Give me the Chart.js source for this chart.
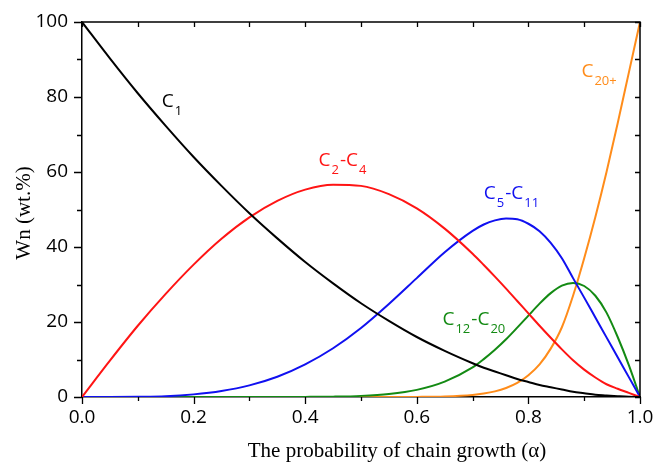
<!DOCTYPE html>
<html>
<head>
<meta charset="utf-8">
<script src="https://cdn.jsdelivr.net/npm/chart.js@4.4.0/dist/chart.umd.min.js"></script>
<style>
  html, body { margin: 0; padding: 0; background: #fff; }
</style>
</head>
<body>
<canvas id="asfChart" width="654" height="465"></canvas>
<script>
// chain growth probability (x) and weight fractions
var alpha   = [0, 0.05, 0.1, 0.15, 0.2, 0.25, 0.3, 0.35, 0.4, 0.45, 0.5, 0.55, 0.6, 0.65, 0.7, 0.72, 0.74, 0.76, 0.78, 0.8, 0.82, 0.84, 0.86, 0.88, 0.9, 0.92, 0.94, 0.96, 0.98, 1.0];
var c1      = [100, 90.3, 81, 72.3, 64, 56.3, 49, 42.3, 36, 30.3, 25, 20.3, 16, 12.3, 9, 7.8, 6.8, 5.8, 4.8, 4, 3.2, 2.6, 2, 1.4, 1, 0.6, 0.4, 0.2, 0.04, 0];
var c2c4    = [0, 9.7, 19, 27.5, 35.3, 42.2, 47.9, 52.3, 55.3, 56.6, 56.3, 54.1, 50.3, 44.9, 38.2, 35.2, 32.1, 28.9, 25.6, 22.3, 19, 15.8, 12.7, 9.8, 7.3, 5.2, 3.4, 2.2, 1.1, 0];
var c5c11   = [0, 0, 0.05, 0.2, 0.7, 1.6, 3.1, 5.4, 8.7, 13, 18.4, 24.8, 31.7, 38.6, 44.3, 46, 47.1, 47.6, 47.4, 46.2, 44.2, 41.1, 37, 31.7, 26.5, 21.2, 15.9, 10.6, 5.3, 0];
var c12c20  = [0, 0, 0, 0, 0, 0, 0, 0, 0.03, 0.1, 0.3, 0.8, 1.9, 4.1, 7.9, 10.1, 12.6, 15.4, 18.5, 21.7, 24.9, 27.7, 29.7, 30.4, 29.6, 27, 22.5, 16, 8.5, 0];
var c20plus = [0, 0, 0, 0, 0, 0, 0, 0, 0, 0, 0, 0, 0.03, 0.15, 0.56, 0.93, 1.5, 2.4, 3.75, 5.8, 8.7, 12.9, 18.6, 27, 37, 48, 60, 73, 86.5, 100];

var seriesNames  = ['C1', 'C2-C4', 'C5-C11', 'C12-C20', 'C20+'];
var seriesColors = ['#000000', '#ff1414', '#1010f0', '#138a13', '#ff8c1a'];

// curve labels: [text, subscript] pieces, anchored at (alpha, wt.%)
var labelParts = [
  [['C', '1']],
  [['C', '2'], ['-C', '4']],
  [['C', '5'], ['-C', '11']],
  [['C', '12'], ['-C', '20']],
  [['C', '20+']]
];
var labelAlpha = [0.143, 0.424, 0.720, 0.646, 0.895];
var labelWn    = [77.3, 61.5, 52.7, 19.1, 85.3];

var xTitle = 'The probability of chain growth (\u03b1)';
var yTitle = 'Wn (wt.%)';

function pts(ys) {
  return alpha.map(function(a, i) { return { x: a, y: ys[i] }; });
}

var allSeries = [c1, c2c4, c5c11, c12c20, c20plus];
var datasets = allSeries.map(function(s, i) {
  return {
    label: seriesNames[i],
    data: pts(s),
    borderColor: seriesColors[i],
    borderWidth: 2,
    pointRadius: 0,
    cubicInterpolationMode: 'monotone',
    fill: false
  };
});

var tickFont = { family: 'Open Sans', size: 19 };

// box frame, in/out ticks, axis titles, curve labels
var decorations = {
  id: 'decorations',
  afterDatasetsDraw: function(chart) {
    var ctx = chart.ctx;
    var xs = chart.scales.x, ys = chart.scales.y;
    labelParts.forEach(function(parts, i) {
      var x = xs.getPixelForValue(labelAlpha[i]);
      var y = ys.getPixelForValue(labelWn[i]);
      ctx.save();
      ctx.fillStyle = seriesColors[i];
      ctx.textBaseline = 'alphabetic';
      ctx.textAlign = 'left';
      parts.forEach(function(p) {
        ctx.font = '19px "Open Sans"';
        ctx.fillText(p[0], x, y);
        x += ctx.measureText(p[0]).width + 1;
        ctx.font = '13px "Open Sans"';
        ctx.fillText(p[1], x, y + 8);
        x += ctx.measureText(p[1]).width + 1;
      });
      ctx.restore();
    });
  },
  afterDraw: function(chart) {
    var ctx = chart.ctx, a = chart.chartArea;
    var xs = chart.scales.x, ys = chart.scales.y;
    ctx.save();
    ctx.strokeStyle = '#000';
    ctx.lineWidth = 1.5;
    ctx.beginPath();
    ctx.moveTo(a.left, a.top);
    ctx.lineTo(a.right, a.top);
    ctx.lineTo(a.right, a.bottom);
    ctx.stroke();

    ctx.lineWidth = 1.3;
    ctx.beginPath();
    xs.ticks.forEach(function(t, i) {
      var px = Math.round(xs.getPixelForValue(t.value)) + 0.5;
      var major = i % 2 === 0;
      ctx.moveTo(px, a.bottom);
      ctx.lineTo(px, a.bottom + (major ? 7 : 4));
      ctx.moveTo(px, a.top);
      ctx.lineTo(px, a.top + 5);
    });
    ys.ticks.forEach(function(t, i) {
      var py = Math.round(ys.getPixelForValue(t.value)) + 0.5;
      var major = i % 2 === 0;
      ctx.moveTo(a.left, py);
      ctx.lineTo(a.left - (major ? 8 : 5), py);
      ctx.moveTo(a.right, py);
      ctx.lineTo(a.right - 5, py);
    });
    ctx.stroke();

    ctx.fillStyle = '#000';
    ctx.font = '21px "Liberation Serif"';
    ctx.textAlign = 'center';
    ctx.textBaseline = 'alphabetic';
    ctx.fillText(xTitle, 397, 457);

    ctx.translate(30, 213);
    ctx.rotate(-Math.PI / 2);
    ctx.fillText(yTitle, 0, 0);
    ctx.restore();
  }
};

new Chart(document.getElementById('asfChart').getContext('2d'), {
  type: 'line',
  data: { datasets: datasets },
  options: {
    responsive: false,
    animation: false,
    devicePixelRatio: 1,
    layout: { padding: { top: 22, right: 14, left: 0, bottom: 0 } },
    plugins: { legend: { display: false }, tooltip: { enabled: false } },
    scales: {
      x: {
        type: 'linear',
        min: 0, max: 1,
        grid: { display: false, drawTicks: false },
        border: { display: true, color: '#000', width: 1.5 },
        ticks: {
          stepSize: 0.1,
          padding: 9,
          color: '#000',
          font: tickFont,
          autoSkip: false,
          maxRotation: 0,
          callback: function(v, i) { return i % 2 === 0 ? v.toFixed(1) : ''; }
        },
        afterFit: function(scale) {
          scale.height = 68;
          scale.paddingLeft = 0;
          scale.paddingRight = 0;
        }
      },
      y: {
        min: 0, max: 100,
        grid: { display: false, drawTicks: false },
        border: { display: true, color: '#000', width: 1.5 },
        ticks: {
          stepSize: 10,
          padding: 14,
          color: '#000',
          font: tickFont,
          autoSkip: false,
          callback: function(v) { return v % 20 === 0 ? v : ''; }
        },
        afterFit: function(scale) {
          scale.width = 82;
          scale.paddingTop = 0;
          scale.paddingBottom = 0;
        }
      }
    }
  },
  plugins: [decorations]
});
</script>
</body>
</html>
